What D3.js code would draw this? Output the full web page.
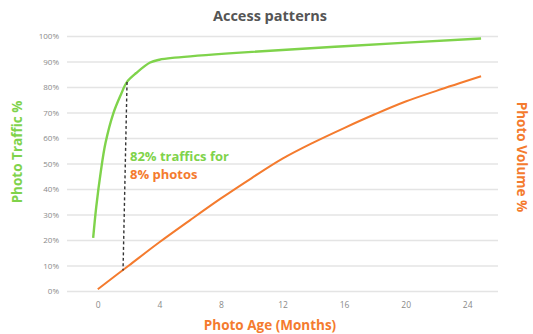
<!DOCTYPE html>
<html>
<head>
<meta charset="utf-8">
<script src="https://cdn.jsdelivr.net/npm/d3@7/dist/d3.min.js"></script>
<style>
  html, body { margin: 0; padding: 0; background: #fff; }
  svg { display: block; }
  text { font-family: "Open Sans", "Noto Sans", sans-serif; }
</style>
</head>
<body>
<svg id="chart" width="533" height="334"></svg>
<script>
// Photo age in months, cumulative share of traffic (%)
const trafficAge = [-0.3, -0.1, 0.2, 0.5, 1.0, 1.5, 1.9, 2.5, 3.4, 4.0, 5.0, 9.0, 16.0, 24.9];
const trafficPct = [20.8, 33, 47, 58, 69.5, 77, 82, 85.5, 89.6, 90.7, 91.5, 93.4, 96.0, 99.0];

// Photo age in months, cumulative share of stored photos (%)
const volumeAge = [0, 2, 4, 6, 8, 10, 12, 14, 16, 18, 20, 22, 24.9];
const volumePct = [0.7, 9.9, 19.1, 27.8, 36.3, 44.3, 51.9, 58.2, 63.9, 69.3, 74.3, 78.5, 84.2];

// Annotation: share of traffic served by the youngest share of photos
const markTraffic = { age: 1.9, pct: 82 };
const markVolume = { age: 1.64, pct: 8 };

const xTicks = [0, 4, 8, 12, 16, 20, 24];
const yTicks = [0, 10, 20, 30, 40, 50, 60, 70, 80, 90, 100];

const GREEN = "#7fd34b";
const ORANGE = "#f47b2e";

const svg = d3.select("#chart");
const m = { left: 67, right: 35, top: 36, bottom: 43 };
const W = 533, H = 334;

const x = d3.scaleLinear().domain([-2, 26]).range([m.left, W - m.right]);
const y = d3.scaleLinear().domain([0, 100]).range([H - m.bottom, m.top]);

// horizontal gridlines + percent labels
const yAxis = d3.axisLeft(y)
  .tickValues(yTicks)
  .tickSize(-(W - m.right - m.left))
  .tickPadding(8)
  .tickFormat(d => d + "%");
const gy = svg.append("g").attr("transform", `translate(${m.left},0)`).call(yAxis);
gy.select(".domain").remove();
gy.selectAll(".tick line").attr("stroke", "#e4e4e4").attr("stroke-width", 1.4);
gy.selectAll(".tick text").attr("fill", "#8a8a8a").attr("font-size", 8).attr("x", -8);

// month labels
const xAxis = d3.axisBottom(x).tickValues(xTicks).tickSize(0).tickPadding(11);
const gx = svg.append("g").attr("transform", `translate(0,${H - m.bottom})`).call(xAxis);
gx.select(".domain").remove();
gx.selectAll(".tick text").attr("fill", "#8a8a8a").attr("font-size", 8.5);

const line = d3.line()
  .x(d => x(d[0]))
  .y(d => y(d[1]))
  .curve(d3.curveCatmullRom.alpha(0.5));

svg.append("path")
  .datum(d3.zip(volumeAge, volumePct))
  .attr("d", line)
  .attr("fill", "none")
  .attr("stroke", ORANGE)
  .attr("stroke-width", 2);

svg.append("path")
  .datum(d3.zip(trafficAge, trafficPct))
  .attr("d", line)
  .attr("fill", "none")
  .attr("stroke", GREEN)
  .attr("stroke-width", 2.4);

// dashed connector between the two curves
svg.append("line")
  .attr("x1", x(markTraffic.age)).attr("y1", y(markTraffic.pct))
  .attr("x2", x(markVolume.age)).attr("y2", y(markVolume.pct))
  .attr("stroke", "#333")
  .attr("stroke-width", 1.4)
  .attr("stroke-dasharray", "3,2.5");

svg.append("text")
  .attr("x", 130).attr("y", 161)
  .attr("fill", GREEN).attr("font-size", 13).attr("font-weight", 700)
  .text(`${markTraffic.pct}% traffics for`);
svg.append("text")
  .attr("x", 130).attr("y", 179)
  .attr("fill", ORANGE).attr("font-size", 13).attr("font-weight", 700)
  .text(`${markVolume.pct}% photos`);

// titles
svg.append("text")
  .attr("x", 270).attr("y", 21)
  .attr("text-anchor", "middle")
  .attr("fill", "#555").attr("font-size", 14.5).attr("font-weight", 700)
  .text("Access patterns");

svg.append("text")
  .attr("x", 270).attr("y", 330)
  .attr("text-anchor", "middle")
  .attr("fill", ORANGE).attr("font-size", 13.5).attr("font-weight", 700)
  .text("Photo Age (Months)");

svg.append("text")
  .attr("transform", "translate(22,152) rotate(-90)")
  .attr("text-anchor", "middle")
  .attr("fill", GREEN).attr("font-size", 13.5).attr("font-weight", 700)
  .text("Photo Traffic %");

svg.append("text")
  .attr("transform", "translate(517,157) rotate(90)")
  .attr("text-anchor", "middle")
  .attr("fill", ORANGE).attr("font-size", 13.5).attr("font-weight", 700)
  .text("Photo Volume %");
</script>
</body>
</html>
